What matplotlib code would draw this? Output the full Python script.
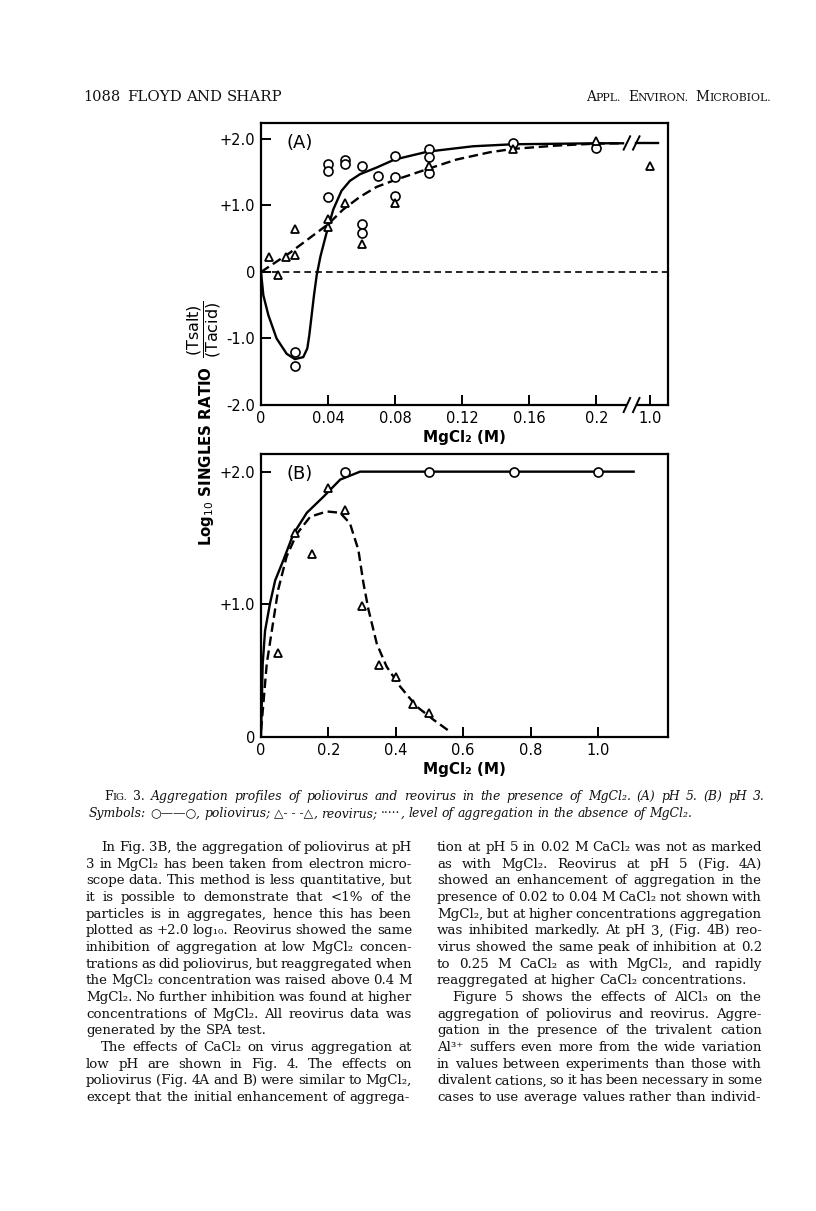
import numpy as np
import matplotlib
matplotlib.use('Agg')
import matplotlib.pyplot as plt
from matplotlib.transforms import blended_transform_factory

# ---- data, panel A (pH 5) ----
a_polio_x = [0.02, 0.02, 0.04, 0.04, 0.04, 0.05, 0.05, 0.06, 0.06, 0.06, 0.07,
             0.08, 0.08, 0.08, 0.10, 0.10, 0.10, 0.15, 0.2]
a_polio_y = [-1.21, -1.41, 1.63, 1.52, 1.12, 1.69, 1.63, 1.60, 0.72, 0.58, 1.44,
             1.74, 1.43, 1.14, 1.85, 1.73, 1.49, 1.94, 1.87]
a_reo_x = [0.005, 0.01, 0.015, 0.02, 0.02, 0.04, 0.04, 0.05, 0.06, 0.08, 0.10, 0.15, 0.2, 1.0]
a_reo_y = [0.22, -0.05, 0.22, 0.64, 0.25, 0.79, 0.68, 1.03, 0.42, 1.04, 1.59, 1.85, 1.97, 1.60]

a_polio_curve_x = [0, 0.0014, 0.0044, 0.0093, 0.0153, 0.0202, 0.0252, 0.0276, 0.0288, 0.0302,
                   0.0316, 0.0332, 0.0355, 0.0391, 0.0431, 0.048, 0.053, 0.059, 0.0689,
                   0.0796, 0.0995, 0.1264, 0.1499, 0.2, 0.6]
a_polio_curve_y = [0, -0.35, -0.65, -1.0, -1.23, -1.31, -1.28, -1.15, -0.95, -0.65,
                   -0.35, -0.05, 0.24, 0.59, 0.94, 1.22, 1.37, 1.47, 1.57,
                   1.69, 1.81, 1.89, 1.92, 1.935, 1.935]
a_reo_curve_x = [0, 0.0173, 0.0401, 0.049, 0.059, 0.069, 0.0796, 0.0995, 0.1165, 0.1364,
                 0.15, 0.176, 0.2, 0.6]
a_reo_curve_y = [0, 0.29, 0.72, 0.94, 1.13, 1.28, 1.38, 1.55, 1.69, 1.80,
                 1.85, 1.90, 1.93, 1.935]
a_tail_x = [0.8, 1.12]
a_tail_y = [1.935, 1.935]
a_base_x = [0, 1.275]
a_base_y = [0, 0]

a_xticks = [0, 0.04, 0.08, 0.12, 0.16, 0.2, 1.0]
a_xlabels = ['0', '0.04', '0.08', '0.12', '0.16', '0.2', '1.0']
a_yticks = [-2, -1, 0, 1, 2]
a_ylabels = ['-2.0', '-1.0', '0', '+1.0', '+2.0']

# ---- data, panel B (pH 3) ----
b_polio_x = [0.25, 0.5, 0.75, 1.0]
b_polio_y = [2.0, 2.0, 2.0, 2.0]
b_reo_x = [0.05, 0.1, 0.15, 0.2, 0.25, 0.3, 0.35, 0.4, 0.45, 0.5]
b_reo_y = [0.63, 1.54, 1.38, 1.88, 1.71, 0.99, 0.54, 0.45, 0.25, 0.18]

b_polio_curve_x = [0, 0.005, 0.012, 0.027, 0.042, 0.066, 0.096, 0.136, 0.185, 0.235, 0.294, 1.106]
b_polio_curve_y = [0, 0.55, 0.80, 1.01, 1.18, 1.33, 1.53, 1.69, 1.81, 1.94, 2.0, 2.0]
b_reo_curve_x = [0, 0.007, 0.017, 0.032, 0.051, 0.076, 0.106, 0.146, 0.195, 0.235, 0.264,
                 0.289, 0.304, 0.319, 0.344, 0.373, 0.413, 0.462, 0.512, 0.561]
b_reo_curve_y = [0.05, 0.25, 0.55, 0.80, 1.11, 1.36, 1.53, 1.66, 1.70, 1.69, 1.61,
                 1.41, 1.16, 0.96, 0.70, 0.53, 0.38, 0.23, 0.13, 0.04]

b_xticks = [0, 0.2, 0.4, 0.6, 0.8, 1.0]
b_xlabels = ['0', '0.2', '0.4', '0.6', '0.8', '1.0']
b_yticks = [0, 1, 2]
b_ylabels = ['0', '+1.0', '+2.0']

# ---- page text ----
left_col = [
    "In Fig. 3B, the aggregation of poliovirus at pH",
    "3 in MgCl₂ has been taken from electron micro-",
    "scope data. This method is less quantitative, but",
    "it is possible to demonstrate that <1% of the",
    "particles is in aggregates, hence this has been",
    "plotted as +2.0 log₁₀. Reovirus showed the same",
    "inhibition of aggregation at low MgCl₂ concen-",
    "trations as did poliovirus, but reaggregated when",
    "the MgCl₂ concentration was raised above 0.4 M",
    "MgCl₂. No further inhibition was found at higher",
    "concentrations of MgCl₂. All reovirus data was",
    "generated by the SPA test.",
    "The effects of CaCl₂ on virus aggregation at",
    "low pH are shown in Fig. 4. The effects on",
    "poliovirus (Fig. 4A and B) were similar to MgCl₂,",
    "except that the initial enhancement of aggrega-",
]
right_col = [
    "tion at pH 5 in 0.02 M CaCl₂ was not as marked",
    "as with MgCl₂. Reovirus at pH 5 (Fig. 4A)",
    "showed an enhancement of aggregation in the",
    "presence of 0.02 to 0.04 M CaCl₂ not shown with",
    "MgCl₂, but at higher concentrations aggregation",
    "was inhibited markedly. At pH 3, (Fig. 4B) reo-",
    "virus showed the same peak of inhibition at 0.2",
    "to 0.25 M CaCl₂ as with MgCl₂, and rapidly",
    "reaggregated at higher CaCl₂ concentrations.",
    "Figure 5 shows the effects of AlCl₃ on the",
    "aggregation of poliovirus and reovirus. Aggre-",
    "gation in the presence of the trivalent cation",
    "Al³⁺ suffers even more from the wide variation",
    "in values between experiments than those with",
    "divalent cations, so it has been necessary in some",
    "cases to use average values rather than individ-",
]
left_indent = [0, 12]
left_last = [11, 15]
right_indent = [9]
right_last = [8, 15]

caption_1 = "Aggregation profiles of poliovirus and reovirus in the presence of MgCl₂. (A) pH 5. (B) pH 3."
caption_2 = "level of aggregation in the absence of MgCl₂."

W, H = 816, 1211
plt.rcParams['font.family'] = ['DejaVu Sans']
plt.rcParams['mathtext.fontset'] = 'dejavusans'
fig = plt.figure(figsize=(W / 100, H / 100), dpi=100)
fig.patch.set_facecolor('white')


def fwd(x):
    x = np.asarray(x, dtype=float)
    return np.where(x <= 0.2, x, 0.2 + (x - 0.2) * 0.0397)


def inv(u):
    u = np.asarray(u, dtype=float)
    return np.where(u <= 0.2, u, 0.2 + (u - 0.2) / 0.0397)


def style_axis(ax):
    for s in ax.spines.values():
        s.set_linewidth(1.6)
    ax.tick_params(direction='in', length=7, width=1.4, labelsize=10.5,
                   top=False, right=False, pad=4)


def ax_box(l, t, r, b):
    return [l / W, 1 - b / H, (r - l) / W, (b - t) / H]


lw = 1.7
dash = (4, 2)

# ---- panel A ----
axA = fig.add_axes(ax_box(261, 123, 668, 405))
axA.set_xscale('function', functions=(fwd, inv))
axA.set_xlim(0, 1.275)
axA.set_ylim(-2.0, 2.24)
axA.plot(a_base_x, a_base_y, color='black', lw=1.2, dashes=(4, 2.5))
axA.plot(a_polio_curve_x, a_polio_curve_y, color='black', lw=lw)
axA.plot(a_reo_curve_x, a_reo_curve_y, color='black', lw=lw, dashes=dash)
axA.plot(a_tail_x, a_tail_y, color='black', lw=lw)
axA.plot(a_polio_x, a_polio_y, 'o', ms=6.5, mfc='white', mec='black', mew=1.2, zorder=4)
axA.plot(a_reo_x, a_reo_y, '^', ms=5.5, mfc='white', mec='black', mew=1.3, zorder=4)
axA.set_xticks(a_xticks)
axA.set_xticklabels(a_xlabels)
axA.set_yticks(a_yticks)
axA.set_yticklabels(a_ylabels)
axA.xaxis.set_minor_locator(matplotlib.ticker.NullLocator())
style_axis(axA)
axA.set_xlabel('MgCl₂ (M)', fontsize=11, fontweight='bold', labelpad=3)
axA.text(0.063, 0.93, '(A)', transform=axA.transAxes, fontsize=13, va='center')

# break marks on the axis and on the curves
ta = axA.transAxes
axA.plot([0.903, 0.918], [0, 0], color='white', lw=3, transform=ta, clip_on=False, zorder=5)
for bx in (0.899, 0.922):
    axA.plot([bx - 0.008, bx + 0.008], [-0.025, 0.025], color='black', lw=1.4,
             transform=ta, clip_on=False, zorder=6)
tb = blended_transform_factory(axA.transAxes, axA.transData)
for bx in (0.899, 0.922):
    axA.plot([bx - 0.008, bx + 0.008], [1.84, 2.04], color='black', lw=1.4,
             transform=tb, clip_on=False, zorder=6)

# ---- panel B ----
axB = fig.add_axes(ax_box(261, 454, 668, 737))
axB.set_xlim(0, 1.208)
axB.set_ylim(0, 2.133)
axB.plot(b_polio_curve_x, b_polio_curve_y, color='black', lw=lw)
axB.plot(b_reo_curve_x, b_reo_curve_y, color='black', lw=lw, dashes=dash)
axB.plot(b_polio_x, b_polio_y, 'o', ms=6.5, mfc='white', mec='black', mew=1.2, zorder=4)
axB.plot(b_reo_x, b_reo_y, '^', ms=5.5, mfc='white', mec='black', mew=1.3, zorder=4)
axB.set_xticks(b_xticks)
axB.set_xticklabels(b_xlabels)
axB.set_yticks(b_yticks)
axB.set_yticklabels(b_ylabels)
style_axis(axB)
axB.set_xlabel('MgCl₂ (M)', fontsize=11, fontweight='bold', labelpad=3)
axB.text(0.063, 0.93, '(B)', transform=axB.transAxes, fontsize=13, va='center')

# shared y label: main words plus the (Tsalt)/(Tacid) fraction above them
fig.text(207 / W, 1 - 456 / H, r'Log$_{10}$ SINGLES RATIO',
         rotation=90, ha='center', va='center', fontsize=10.8, fontweight='bold')
fig.text(204 / W, 1 - 329 / H, r'$\dfrac{\mathrm{(Tsalt)}}{\mathrm{(Tacid)}}$',
         rotation=90, ha='center', va='center', fontsize=11.5)

# ---- page text helpers ----
renderer = fig.canvas.get_renderer()


def text_width(s, **kw):
    t = fig.text(0, 0, s, **kw)
    w = t.get_window_extent(renderer).width
    t.remove()
    return w


def draw_line(words, x0, y, x1=None, **kw):
    # words: list of words, each a list of (text, extra style) pieces
    placed = []
    widths = []
    for w in words:
        pieces = []
        tot = 0
        for s, extra in w:
            style = dict(kw)
            style.update(extra)
            t = fig.text(0, 1 - y / H, s, ha='left', va='baseline', **style)
            wd = t.get_window_extent(renderer).width
            pieces.append((t, wd))
            tot += wd
        placed.append(pieces)
        widths.append(tot)
    if x1 is not None and len(words) > 1:
        gap = (x1 - x0 - sum(widths)) / (len(words) - 1)
    else:
        gap = text_width('n n', **kw) - text_width('nn', **kw)
    x = x0
    for pieces, tot in zip(placed, widths):
        xx = x
        for t, wd in pieces:
            t.set_x(xx / W)
            xx += wd
        x += tot + gap


def plain(s):
    return [[(w, {})] for w in s.split()]


serif = dict(family=['DejaVu Serif', 'DejaVu Sans'], color='#111111')

# header
draw_line([[('1088', {})]], 83, 101, fontsize=10.5, **serif)
draw_line(plain('FLOYD AND SHARP'), 127, 101, fontsize=10.8, **serif)
sc = {'fontsize': 7.8}
hdr = [[('A', {}), ('PPL.', sc)], [('E', {}), ('NVIRON.', sc)], [('M', {}), ('ICROBIOL.', sc)]]
draw_line(hdr, 586, 101, 771, fontsize=9.8, **serif)

# caption
ital = dict(serif, style='italic', fontsize=8.9)
cap1 = [[('F', {'style': 'normal'}), ('IG.', {'style': 'normal', 'fontsize': 7.2})],
        [('3.', {'style': 'normal'})]] + plain(caption_1)
draw_line(cap1, 104, 800, 765, **ital)
up = {'style': 'normal'}
cap2 = [[('Symbols:', {})], [('○——○', up), (',', {})], [('poliovirus;', {})],
        [('△- - -△', up), (',', {})], [('reovirus;', {})], [('·····', up), (',', {})]] + plain(caption_2)
draw_line(cap2, 89, 817, **ital)

# body columns
body = dict(serif, fontsize=9.6)
y0, dy = 851, 16.67
for i, s in enumerate(left_col):
    xs = 101 if i in left_indent else 86
    draw_line(plain(s), xs, y0 + i * dy, None if i in left_last else 412, **body)
for i, s in enumerate(right_col):
    xs = 452 if i in right_indent else 437
    draw_line(plain(s), xs, y0 + i * dy, None if i in right_last else 762, **body)

fig.savefig('out.png', dpi=100, facecolor='white')
